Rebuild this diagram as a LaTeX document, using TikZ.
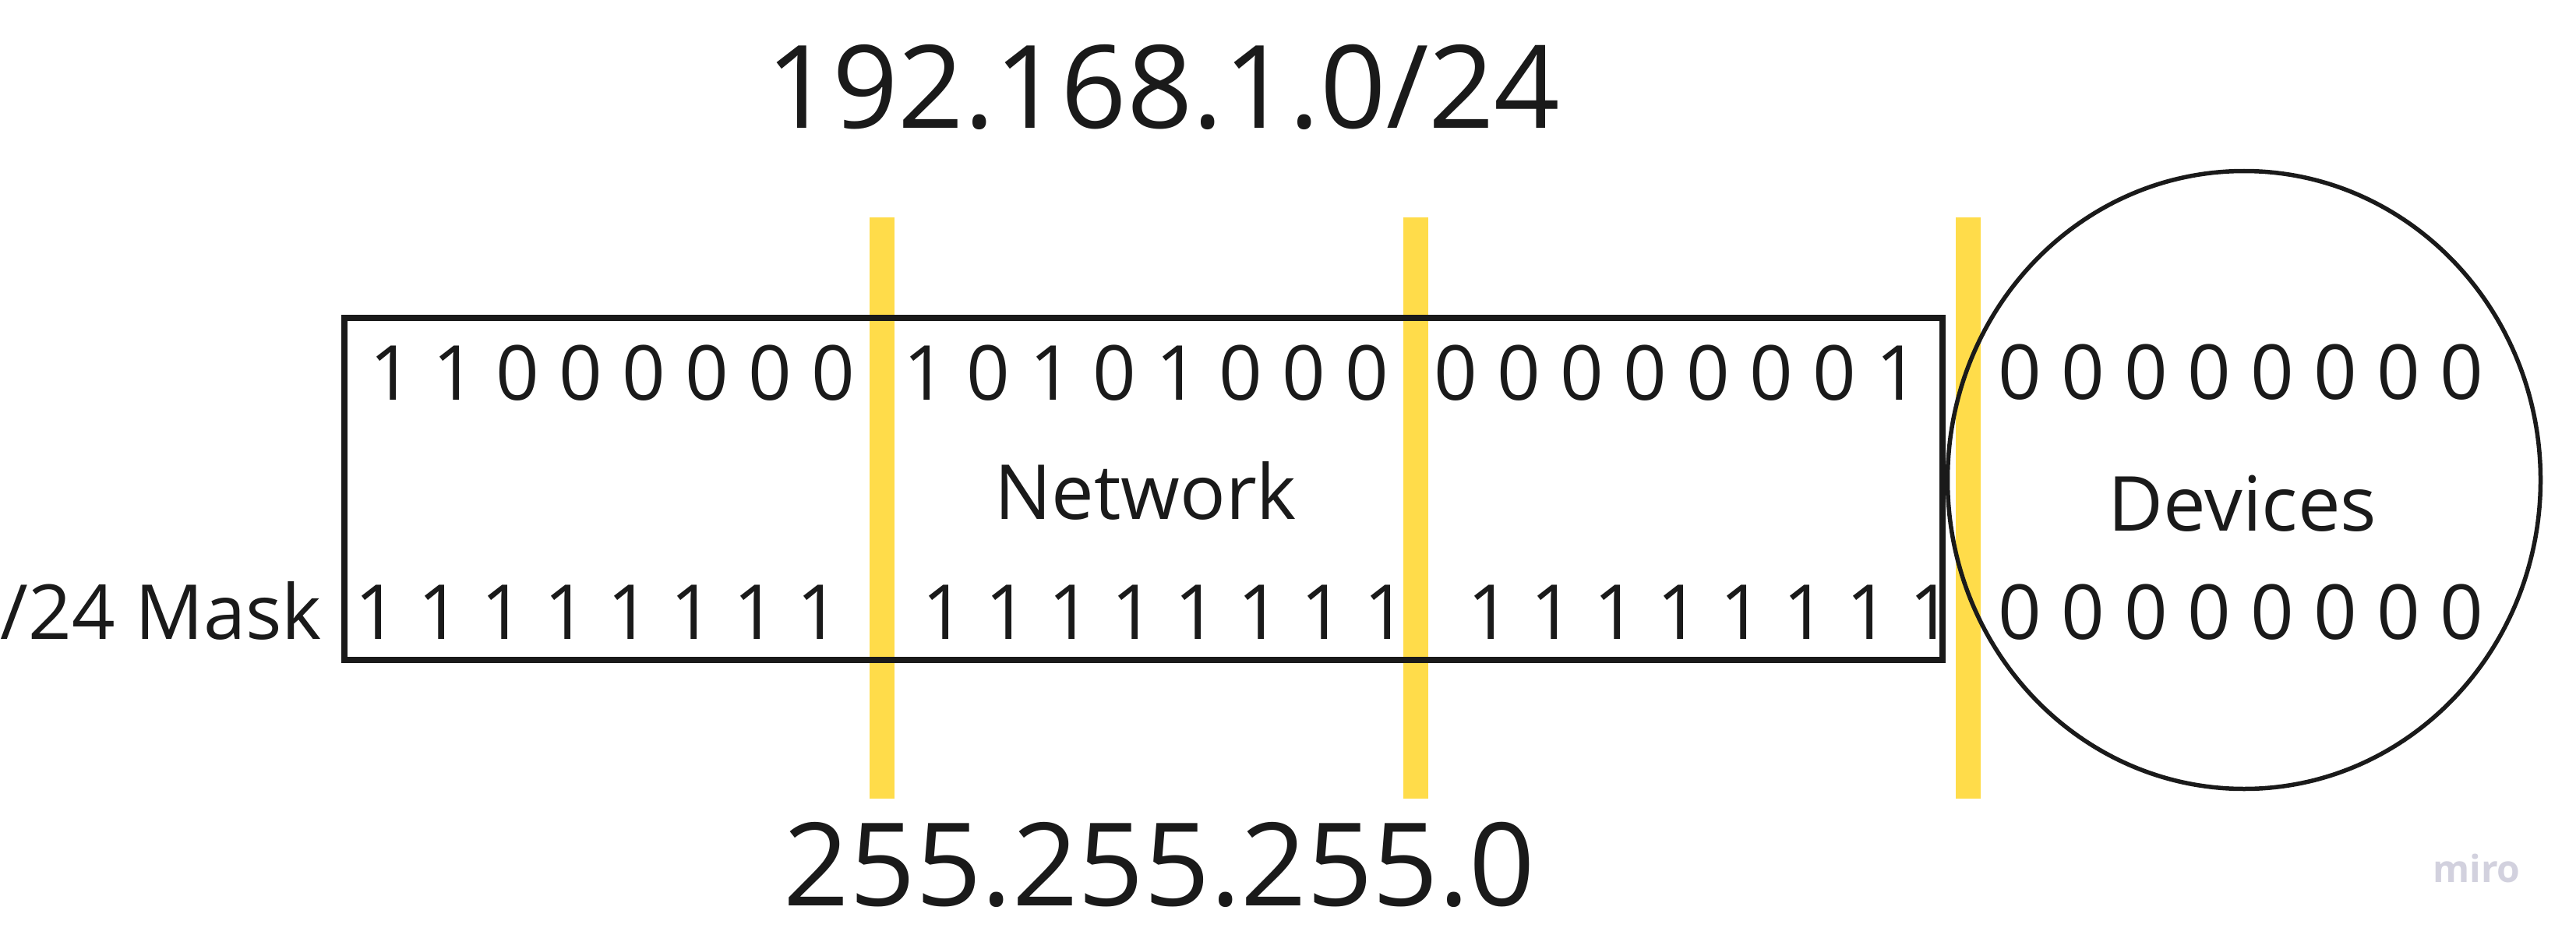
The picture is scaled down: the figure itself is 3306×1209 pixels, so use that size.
\documentclass[tikz,border=0pt]{standalone}
\usepackage{fontspec}
\setmainfont{Open Sans}
\usetikzlibrary{shapes.geometric}
\definecolor{ink}{HTML}{1A1A1A}
\definecolor{barY}{HTML}{FFDC4A}
\definecolor{miroC}{HTML}{D2D1DE}
\begin{document}
\begin{tikzpicture}[x=1pt,y=-1pt,
  bits/.style={inner sep=0pt, anchor=base, text=ink, font=\fontsize{97.4}{117}\selectfont},
  big/.style={inner sep=0pt, anchor=base, text=ink, font=\fontsize{148}{178}\selectfont},
  barbox/.style={fill=barY, draw=none, inner sep=0pt, minimum width=32pt, minimum height=746pt},
  frame/.style={draw=ink, inner sep=0pt}]
\useasboundingbox (0,0) rectangle (3306,1209);
\fill[white] (0,0) rectangle (3306,1209);
% yellow separators
\node[barbox] (bar1) at (1132,652) {};
\node[barbox] (bar2) at (1817,652) {};
\node[barbox] (bar3) at (2526,652) {};
% network box and devices ellipse
\node[frame, line width=8pt, minimum width=2051pt, minimum height=439pt] (netbox) at (1467.5,627.5) {};
\node[frame, ellipse, line width=5.5pt, minimum width=761pt, minimum height=793pt] (devbox) at (2880,616) {};
% titles
\node[big] (cidr) at (1493,165) {192.168.1.0/24};
\node[big] (mask) at (1488,1162) {255.255.255.0};
% address bits
\node[bits] (a1) at (786,513) {1 1 0 0 0 0 0 0};
\node[bits] (a2) at (1471,513) {1 0 1 0 1 0 0 0};
\node[bits] (a3) at (2152,513) {0 0 0 0 0 0 0 1};
\node[bits] (a4) at (2876,512) {0 0 0 0 0 0 0 0};
% mask bits
\node[bits, anchor=base east] (masklabel) at (413,820) {/24 Mask};
\node[bits] (m1) at (767,820) {1 1 1 1 1 1 1 1};
\node[bits] (m2) at (1495,820) {1 1 1 1 1 1 1 1};
\node[bits] (m3) at (2195,820) {1 1 1 1 1 1 1 1};
\node[bits] (m4) at (2876,820) {0 0 0 0 0 0 0 0};
% labels
\node[bits] (network) at (1470,666) {Network};
\node[bits] (devices) at (2878,681) {Devices};
% watermark
\node[inner sep=0pt, anchor=base west, text=miroC, font=\fontsize{48}{58}\selectfont\bfseries] (miro) at (3122,1132) {miro};
\end{tikzpicture}
\end{document}
